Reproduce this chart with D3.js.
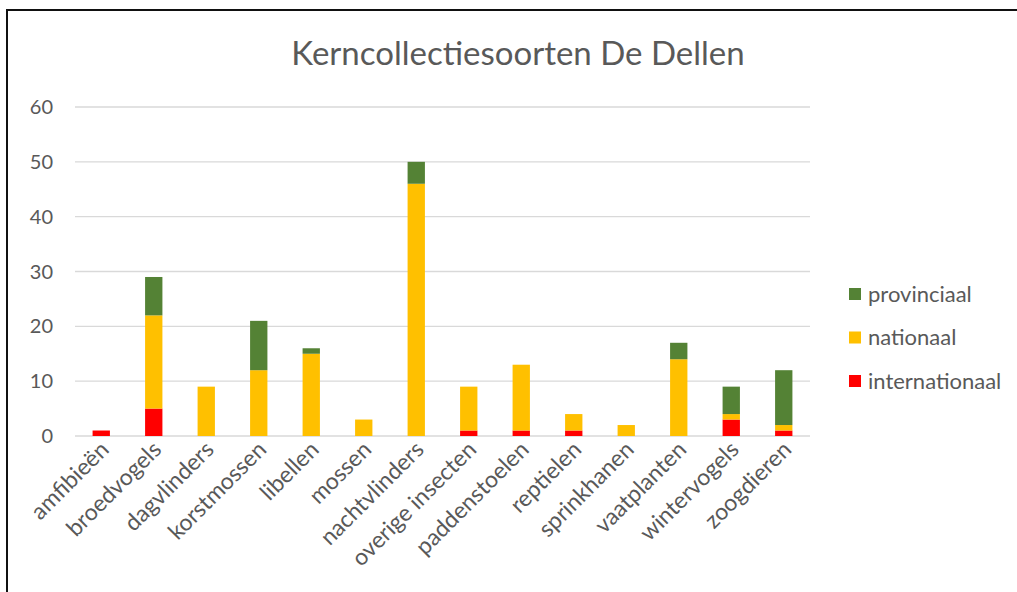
<!DOCTYPE html>
<html>
<head>
<meta charset="utf-8">
<script src="https://cdn.jsdelivr.net/npm/d3@7"></script>
<style>
  body { margin: 0; background: #fff; }
  svg { font-family: Lato, "Open Sans", sans-serif; }
</style>
</head>
<body>
<div id="chart"></div>
<script>
// categories and stacked series
const categories = ["amfibieën", "broedvogels", "dagvlinders", "korstmossen", "libellen", "mossen",
  "nachtvlinders", "overige insecten", "paddenstoelen", "reptielen", "sprinkhanen", "vaatplanten",
  "wintervogels", "zoogdieren"];
const internationaal = [1, 5, 0, 0, 0, 0, 0, 1, 1, 1, 0, 0, 3, 1];
const nationaal      = [0, 17, 9, 12, 15, 3, 46, 8, 12, 3, 2, 14, 1, 1];
const provinciaal    = [0, 7, 0, 9, 1, 0, 4, 0, 0, 0, 0, 3, 5, 10];
const seriesNames = ["internationaal", "nationaal", "provinciaal"];
const yTicks = [0, 10, 20, 30, 40, 50, 60];

const colors = { internationaal: "#ff0000", nationaal: "#ffc000", provinciaal: "#548235" };

const width = 1017, height = 592;
const margin = { top: 107, right: 207, bottom: 156, left: 75 };

const svg = d3.select("#chart").append("svg")
  .attr("width", width).attr("height", height);

// frame
svg.append("rect")
  .attr("x", 7).attr("y", 10)
  .attr("width", width + 10).attr("height", height + 10)
  .attr("fill", "none").attr("stroke", "#111").attr("stroke-width", 2);

const table = categories.map((c, i) => ({
  cat: c,
  internationaal: internationaal[i],
  nationaal: nationaal[i],
  provinciaal: provinciaal[i]
}));
const stacked = d3.stack().keys(seriesNames)(table);

const x = d3.scaleBand()
  .domain(categories)
  .range([margin.left, width - margin.right])
  .paddingInner(0.67).paddingOuter(0.335);

const y = d3.scaleLinear()
  .domain([0, 60])
  .range([height - margin.bottom, margin.top]);

// gridlines
svg.append("g").selectAll("line")
  .data(yTicks).enter().append("line")
  .attr("x1", margin.left).attr("x2", width - margin.right)
  .attr("y1", d => y(d)).attr("y2", d => y(d))
  .attr("stroke", "#d9d9d9").attr("stroke-width", 1.3);

// y labels
svg.append("g").selectAll("text")
  .data(yTicks).enter().append("text")
  .attr("x", 53).attr("y", d => y(d))
  .attr("dy", "0.35em")
  .attr("text-anchor", "end")
  .attr("font-size", "20px")
  .attr("fill", "#595959")
  .text(d => d);

// bars
svg.append("g").selectAll("g")
  .data(stacked).enter().append("g")
  .attr("fill", d => colors[d.key])
  .selectAll("rect")
  .data(d => d).enter().append("rect")
  .attr("x", d => x(d.data.cat))
  .attr("width", x.bandwidth())
  .attr("y", d => y(d[1]))
  .attr("height", d => y(d[0]) - y(d[1]));

// category labels
svg.append("g").selectAll("text")
  .data(categories).enter().append("text")
  .attr("transform", d => `translate(${x(d) + x.bandwidth() / 2 + 9}, 451) rotate(-45)`)
  .attr("text-anchor", "end")
  .attr("font-size", "23px")
  .attr("fill", "#595959")
  .text(d => d);

// title
svg.append("text")
  .attr("x", 518).attr("y", 65)
  .attr("text-anchor", "middle")
  .attr("font-size", "33px")
  .attr("fill", "#595959")
  .text("Kerncollectiesoorten De Dellen");

// legend
const legendItems = ["provinciaal", "nationaal", "internationaal"];
const legend = svg.append("g").selectAll("g")
  .data(legendItems).enter().append("g")
  .attr("transform", (d, i) => `translate(849, ${294 + i * 43.5})`);
legend.append("rect")
  .attr("x", 0).attr("y", -6)
  .attr("width", 12).attr("height", 12)
  .attr("fill", d => colors[d]);
legend.append("text")
  .attr("x", 19).attr("y", 0).attr("dy", "0.35em")
  .attr("font-size", "22px")
  .attr("fill", "#595959")
  .text(d => d);
</script>
</body>
</html>
